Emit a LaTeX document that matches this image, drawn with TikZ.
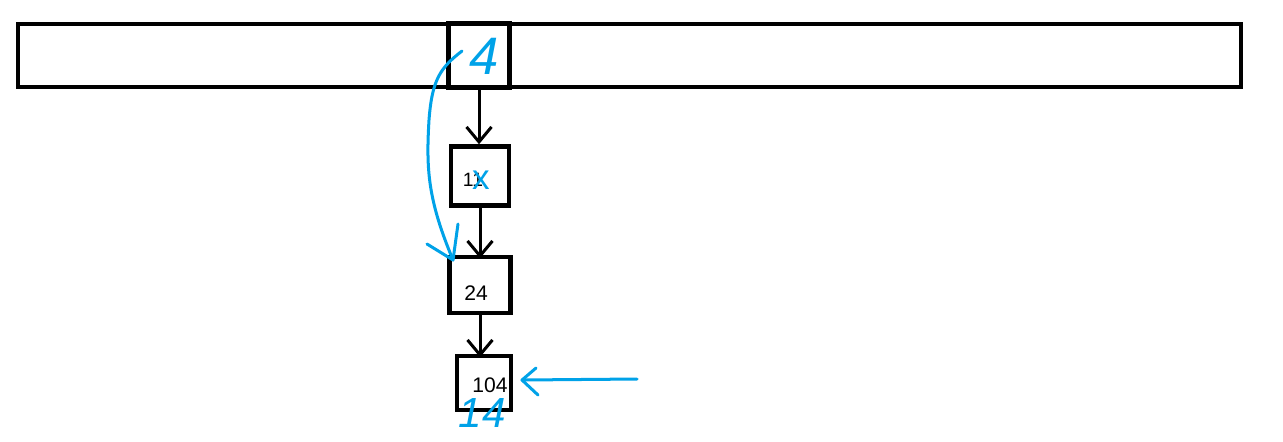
\documentclass[tikz,border=0pt]{standalone}
\usepackage{fontspec}
\setmainfont{Liberation Sans}
\usetikzlibrary{arrows.meta}
\definecolor{pblue}{RGB}{0,162,232}
\begin{document}
\begin{tikzpicture}[x=0.02cm,y=-0.02cm,
  bar/.style={draw=black,line width=4pt*0.57},
  cellbox/.style={draw=black,line width=5pt*0.57},
  listbox/.style={draw=black,line width=4.5pt*0.57,inner sep=0pt},
  link/.style={draw=black,line width=3pt*0.57,-{Straight Barb[length=3mm,width=5mm,line width=3pt*0.57]}},
  pen/.style={draw=pblue,line width=3pt*0.57,line cap=round,line join=round},
  hand/.style={text=pblue}]
\useasboundingbox (0,0) rectangle (1283,441);
% bucket array
\draw[bar] (18,24) rectangle (1241,87);
\node[cellbox,minimum width=61*0.02cm,minimum height=64*0.02cm,inner sep=0pt] (cell) at (479,55) {};
% list nodes
\node[listbox,minimum width=58*0.02cm,minimum height=59*0.02cm] (n1) at (480,176) {};
\node[listbox,minimum width=61*0.02cm,minimum height=56*0.02cm] (n2) at (480,285) {};
\node[listbox,minimum width=54*0.02cm,minimum height=54*0.02cm] (n3) at (484,383) {};
\node[font=\fontsize{11}{11}\selectfont] (t1) at (473,180) {11};
\node[font=\fontsize{12}{12}\selectfont] (t2) at (476,293) {24};
\node[font=\fontsize{12}{12}\selectfont] (t3) at (490,385) {104};
% links
\draw[link] (cell.south) -- (cell.south |- n1.north);
\draw[link] (n1.south) -- ([yshift=-2pt]n1.south |- n2.north);
\draw[link] (n2.south) -- ([yshift=-2pt]n2.south |- n3.north);
% handwritten blue marks
\node[hand,font=\itshape\fontsize{30}{30}\selectfont] (h4) at (484,56) {4};
\node[hand,font=\fontsize{20}{20}\selectfont] (hx) at (481,180) {x};
\node[hand,font=\itshape\fontsize{24}{24}\selectfont] (h14) at (482,413) {14};
\coordinate (cs) at (462,51);
\coordinate (ce) at (453,260);
\draw[pen] (cs) .. controls (440,68) and (432,80) .. (429,120)
  .. controls (426,170) and (428,200) .. (ce);
\draw[pen] (458,224) -- (ce) -- (427,244);
\coordinate (as) at (637,379);
\coordinate (ae) at (522,380);
\draw[pen] (as) -- (ae);
\draw[pen] (536,368) -- (ae) -- (538,395);
\end{tikzpicture}
\end{document}
